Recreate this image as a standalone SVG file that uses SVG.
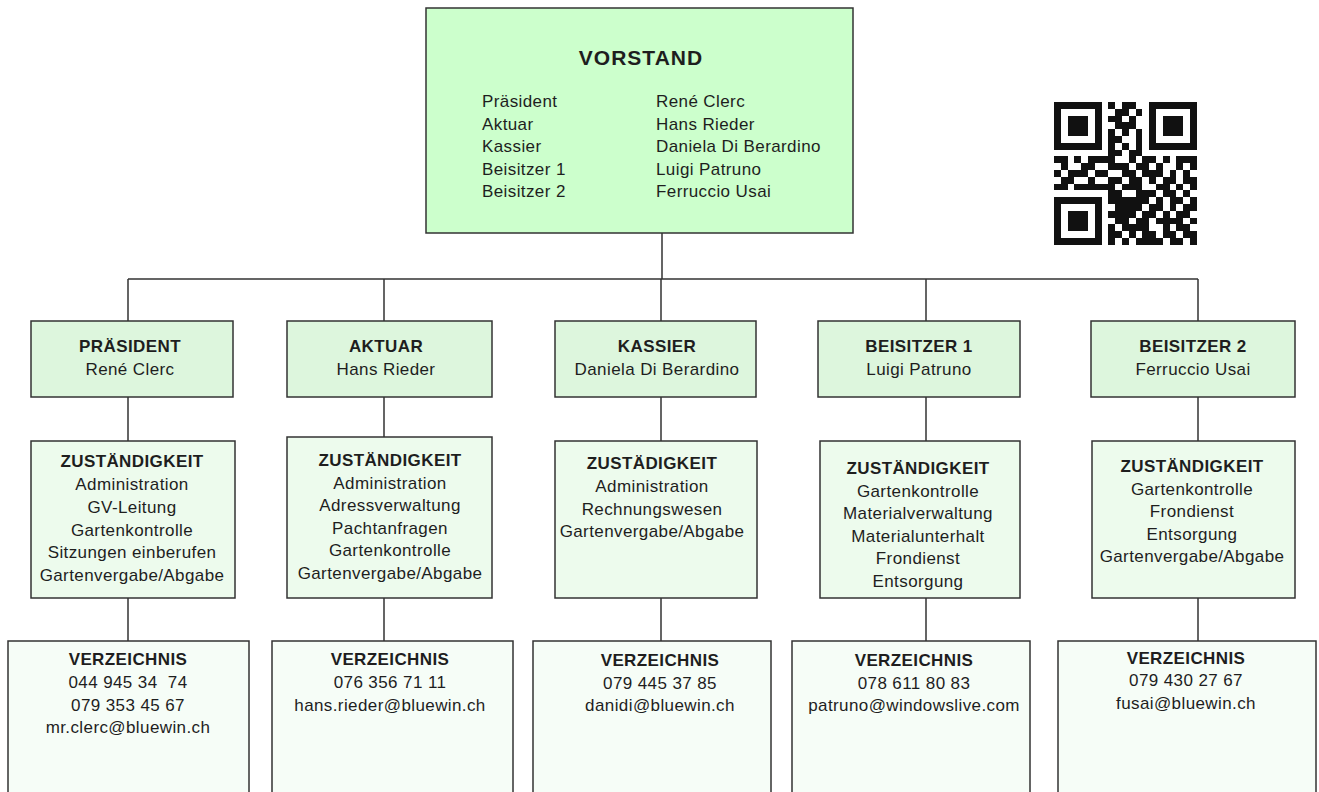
<svg xmlns="http://www.w3.org/2000/svg" width="1319" height="792" viewBox="0 0 1319 792">
<style>
.bg{fill:#ffffff}
.box{stroke:#333333;stroke-width:1.5}
.top{fill:#ccffcc}
.r1{fill:#ddf6dd}
.r2{fill:#edfbed}
.r3{fill:#f6fdf7}
.line{stroke:#333333;stroke-width:1.5;fill:none}
text{font-family:"Liberation Sans",Arial,sans-serif;fill:#1e1e1e;font-size:17px;letter-spacing:0.4px}
.c{text-anchor:middle}
.b{font-weight:bold}
.t{font-size:21px;font-weight:bold;letter-spacing:1px}
.qr{fill:#111111}
</style>
<rect class="bg" x="0" y="0" width="1319" height="792"/>
<g id="connectors">
<path class="line" d="M662 233V279M128 279H1198M128 279V321M384 279V321M661 279V321M926 279V321M1198 279V321"/>
<path class="line" d="M128 397V441M384 397V437M661 397V441M926 397V441M1198 397V441"/>
<path class="line" d="M128 598V641M384 598V641M661 598V641M926 598V641M1198 598V641"/>
</g>
<g id="vorstand">
<rect class="box top" x="426" y="8" width="427" height="225"/>
<text class="t c" x="641" y="65">VORSTAND</text>
<text x="482" y="107">Präsident</text>
<text x="482" y="129.5">Aktuar</text>
<text x="482" y="152">Kassier</text>
<text x="482" y="174.5">Beisitzer 1</text>
<text x="482" y="197">Beisitzer 2</text>
<text x="656" y="107">René Clerc</text>
<text x="656" y="129.5">Hans Rieder</text>
<text x="656" y="152">Daniela Di Berardino</text>
<text x="656" y="174.5">Luigi Patruno</text>
<text x="656" y="197">Ferruccio Usai</text>
</g>
<g id="qrcode">
<path class="qr" shape-rendering="crispEdges" transform="translate(1054,102) scale(6.8)" d="M0 0h7v1h-7zM8 0h1v1h-1zM10 0h2v1h-2zM14 0h7v1h-7z
M0 1h1v1h-1zM6 1h1v1h-1zM9 1h2v1h-2zM12 1h1v1h-1zM14 1h1v1h-1zM20 1h1v1h-1z
M0 2h1v1h-1zM2 2h3v1h-3zM6 2h1v1h-1zM8 2h2v1h-2zM11 2h1v1h-1zM14 2h1v1h-1zM16 2h3v1h-3zM20 2h1v1h-1z
M0 3h1v1h-1zM2 3h3v1h-3zM6 3h1v1h-1zM9 3h3v1h-3zM14 3h1v1h-1zM16 3h3v1h-3zM20 3h1v1h-1z
M0 4h1v1h-1zM2 4h3v1h-3zM6 4h1v1h-1zM8 4h1v1h-1zM10 4h1v1h-1zM12 4h1v1h-1zM14 4h1v1h-1zM16 4h3v1h-3zM20 4h1v1h-1z
M0 5h1v1h-1zM6 5h1v1h-1zM8 5h2v1h-2zM12 5h1v1h-1zM14 5h1v1h-1zM20 5h1v1h-1z
M0 6h7v1h-7zM8 6h1v1h-1zM10 6h1v1h-1zM12 6h1v1h-1zM14 6h7v1h-7z
M8 7h2v1h-2zM11 7h2v1h-2z
M0 8h2v1h-2zM3 8h1v1h-1zM5 8h4v1h-4zM11 8h1v1h-1zM13 8h2v1h-2zM16 8h1v1h-1zM18 8h3v1h-3z
M1 9h1v1h-1zM4 9h2v1h-2zM8 9h3v1h-3zM12 9h2v1h-2zM15 9h1v1h-1zM18 9h1v1h-1zM20 9h1v1h-1z
M0 10h1v1h-1zM2 10h3v1h-3zM6 10h2v1h-2zM10 10h2v1h-2zM13 10h3v1h-3zM17 10h1v1h-1zM19 10h1v1h-1z
M1 11h2v1h-2zM5 11h1v1h-1zM8 11h2v1h-2zM11 11h2v1h-2zM14 11h1v1h-1zM16 11h2v1h-2zM19 11h2v1h-2z
M0 12h2v1h-2zM3 12h6v1h-6zM10 12h3v1h-3zM15 12h2v1h-2zM18 12h1v1h-1zM20 12h1v1h-1z
M8 13h2v1h-2zM12 13h3v1h-3zM16 13h2v1h-2zM19 13h1v1h-1z
M0 14h7v1h-7zM8 14h6v1h-6zM15 14h1v1h-1zM17 14h2v1h-2zM20 14h1v1h-1z
M0 15h1v1h-1zM6 15h1v1h-1zM9 15h4v1h-4zM14 15h2v1h-2zM17 15h1v1h-1zM19 15h2v1h-2z
M0 16h1v1h-1zM2 16h3v1h-3zM6 16h1v1h-1zM8 16h4v1h-4zM13 16h2v1h-2zM16 16h1v1h-1zM18 16h2v1h-2z
M0 17h1v1h-1zM2 17h3v1h-3zM6 17h1v1h-1zM9 17h2v1h-2zM12 17h2v1h-2zM15 17h4v1h-4zM20 17h1v1h-1z
M0 18h1v1h-1zM2 18h3v1h-3zM6 18h1v1h-1zM8 18h1v1h-1zM10 18h4v1h-4zM16 18h1v1h-1zM18 18h2v1h-2z
M0 19h1v1h-1zM6 19h1v1h-1zM8 19h2v1h-2zM11 19h1v1h-1zM13 19h2v1h-2zM16 19h2v1h-2zM19 19h2v1h-2z
M0 20h7v1h-7zM8 20h1v1h-1zM10 20h1v1h-1zM12 20h4v1h-4zM17 20h2v1h-2zM20 20h1v1h-1z"/>
</g>
<g id="praesident">
<rect class="box r1" x="31" y="321" width="202" height="76"/>
<text class="c b" x="130" y="352">PRÄSIDENT</text>
<text class="c" x="130" y="375">René Clerc</text>
</g>
<g id="aktuar">
<rect class="box r1" x="287" y="321" width="205" height="76"/>
<text class="c b" x="386" y="352">AKTUAR</text>
<text class="c" x="386" y="375">Hans Rieder</text>
</g>
<g id="kassier">
<rect class="box r1" x="555" y="321" width="201" height="76"/>
<text class="c b" x="657" y="352">KASSIER</text>
<text class="c" x="657" y="375">Daniela Di Berardino</text>
</g>
<g id="beisitzer1">
<rect class="box r1" x="818" y="321" width="202" height="76"/>
<text class="c b" x="919" y="352">BEISITZER 1</text>
<text class="c" x="919" y="375">Luigi Patruno</text>
</g>
<g id="beisitzer2">
<rect class="box r1" x="1091" y="321" width="204" height="76"/>
<text class="c b" x="1193" y="352">BEISITZER 2</text>
<text class="c" x="1193" y="375">Ferruccio Usai</text>
</g>
<g id="zust-praesident">
<rect class="box r2" x="31" y="441" width="204" height="157"/>
<text class="c b" x="132" y="467">ZUSTÄNDIGKEIT</text>
<text class="c" x="132" y="490">Administration</text>
<text class="c" x="132" y="513">GV-Leitung</text>
<text class="c" x="132" y="536">Gartenkontrolle</text>
<text class="c" x="132" y="558">Sitzungen einberufen</text>
<text class="c" x="132" y="581">Gartenvergabe/Abgabe</text>
</g>
<g id="zust-aktuar">
<rect class="box r2" x="287" y="437" width="205" height="161"/>
<text class="c b" x="390" y="466">ZUSTÄNDIGKEIT</text>
<text class="c" x="390" y="488.5">Administration</text>
<text class="c" x="390" y="511">Adressverwaltung</text>
<text class="c" x="390" y="533.5">Pachtanfragen</text>
<text class="c" x="390" y="556">Gartenkontrolle</text>
<text class="c" x="390" y="579">Gartenvergabe/Abgabe</text>
</g>
<g id="zust-kassier">
<rect class="box r2" x="555" y="441" width="202" height="157"/>
<text class="c b" x="652" y="469">ZUSTÄDIGKEIT</text>
<text class="c" x="652" y="492">Administration</text>
<text class="c" x="652" y="514.5">Rechnungswesen</text>
<text class="c" x="652" y="537">Gartenvergabe/Abgabe</text>
</g>
<g id="zust-beisitzer1">
<rect class="box r2" x="820" y="441" width="200" height="157"/>
<text class="c b" x="918" y="474">ZUSTÄNDIGKEIT</text>
<text class="c" x="918" y="496.5">Gartenkontrolle</text>
<text class="c" x="918" y="519">Materialverwaltung</text>
<text class="c" x="918" y="541.5">Materialunterhalt</text>
<text class="c" x="918" y="564">Frondienst</text>
<text class="c" x="918" y="586.5">Entsorgung</text>
</g>
<g id="zust-beisitzer2">
<rect class="box r2" x="1092" y="441" width="203" height="157"/>
<text class="c b" x="1192" y="472">ZUSTÄNDIGKEIT</text>
<text class="c" x="1192" y="494.5">Gartenkontrolle</text>
<text class="c" x="1192" y="517">Frondienst</text>
<text class="c" x="1192" y="539.5">Entsorgung</text>
<text class="c" x="1192" y="562">Gartenvergabe/Abgabe</text>
</g>
<g id="verz-praesident">
<rect class="box r3" x="8" y="641" width="241" height="170"/>
<text class="c b" x="128" y="665">VERZEICHNIS</text>
<text class="c" x="128" y="688" xml:space="preserve">044 945 34  74</text>
<text class="c" x="128" y="710.5">079 353 45 67</text>
<text class="c" x="128" y="733">mr.clerc@bluewin.ch</text>
</g>
<g id="verz-aktuar">
<rect class="box r3" x="272" y="641" width="241" height="170"/>
<text class="c b" x="390" y="665">VERZEICHNIS</text>
<text class="c" x="390" y="688">076 356 71 11</text>
<text class="c" x="390" y="710.5">hans.rieder@bluewin.ch</text>
</g>
<g id="verz-kassier">
<rect class="box r3" x="533" y="641" width="238" height="170"/>
<text class="c b" x="660" y="666">VERZEICHNIS</text>
<text class="c" x="660" y="688.5">079 445 37 85</text>
<text class="c" x="660" y="711">danidi@bluewin.ch</text>
</g>
<g id="verz-beisitzer1">
<rect class="box r3" x="792" y="641" width="238" height="170"/>
<text class="c b" x="914" y="666">VERZEICHNIS</text>
<text class="c" x="914" y="688.5">078 611 80 83</text>
<text class="c" x="914" y="711">patruno@windowslive.com</text>
</g>
<g id="verz-beisitzer2">
<rect class="box r3" x="1058" y="641" width="258" height="170"/>
<text class="c b" x="1186" y="663.5">VERZEICHNIS</text>
<text class="c" x="1186" y="686">079 430 27 67</text>
<text class="c" x="1186" y="708.5">fusai@bluewin.ch</text>
</g>
</svg>
